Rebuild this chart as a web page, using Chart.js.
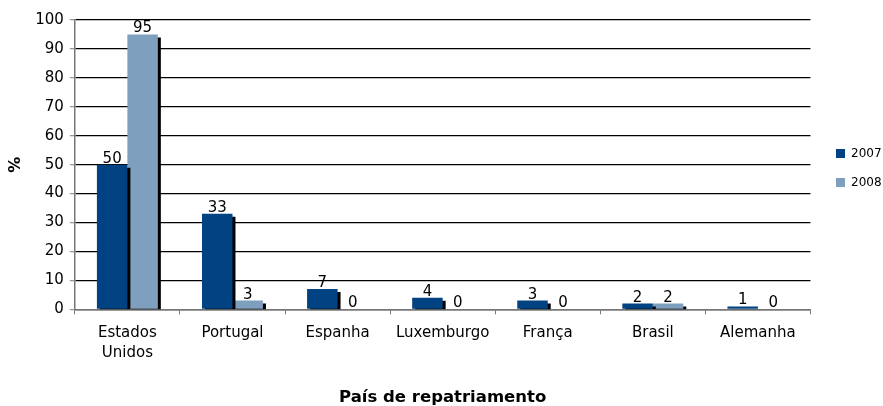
<!DOCTYPE html>
<html lang="pt">
<head>
    <meta charset="UTF-8">
    <title>País de repatriamento</title>
    <script src="https://cdn.jsdelivr.net/npm/chart.js"></script>
    <style>
        html, body { margin: 0; padding: 0; background: #fff; }
        #wrap { width: 883px; height: 406px; }
    </style>
</head>
<body>
    <div id="wrap"><canvas id="chart" width="883" height="406"></canvas></div>

    <script>
        const countries = [['Estados', 'Unidos'], 'Portugal', 'Espanha', 'Luxemburgo', 'França', 'Brasil', 'Alemanha'];
        const values2007 = [50, 33, 7, 4, 3, 2, 1];
        const values2008 = [95, 3, 0, 0, 0, 2, 0];
        const seriesNames = ['2007', '2008'];

        const FONT = '"DejaVu Sans", Verdana, sans-serif';

        // black drop shadow behind each bar
        const barShadow = {
            id: 'barShadow',
            beforeDatasetDraw(chart) {
                const ctx = chart.ctx;
                ctx.save();
                ctx.shadowColor = '#000';
                ctx.shadowOffsetX = 3;
                ctx.shadowOffsetY = 3;
                ctx.shadowBlur = 0;
            },
            afterDatasetDraw(chart) {
                chart.ctx.restore();
            }
        };

        // value above each bar
        const valueLabels = {
            id: 'valueLabels',
            afterDatasetsDraw(chart) {
                const ctx = chart.ctx;
                ctx.save();
                ctx.font = '15px ' + FONT;
                ctx.fillStyle = '#000';
                ctx.textAlign = 'center';
                ctx.textBaseline = 'alphabetic';
                chart.data.datasets.forEach((ds, i) => {
                    chart.getDatasetMeta(i).data.forEach((bar, j) => {
                        ctx.fillText(String(ds.data[j]), bar.x, bar.y - 2);
                    });
                });
                ctx.restore();
            }
        };

        // nudge the legend block to where the original sits
        const legendSpot = {
            id: 'legendSpot',
            afterLayout(chart) {
                const L = chart.legend;
                const pad = L.options.labels.padding;
                const dx = 836 - pad - L.left;
                const dy = 130.5 - L.top;
                L.left += dx; L.right += dx;
                L.top += dy; L.bottom += dy;
            }
        };

        new Chart(document.getElementById('chart'), {
            type: 'bar',
            data: {
                labels: countries,
                datasets: [
                    { label: seriesNames[0], data: values2007, backgroundColor: '#004282' },
                    { label: seriesNames[1], data: values2008, backgroundColor: '#7f9fbf' }
                ]
            },
            options: {
                responsive: false,
                animation: false,
                layout: { padding: { top: 20, right: 0, left: 2, bottom: 0 } },
                datasets: {
                    bar: { categoryPercentage: 0.58, barPercentage: 1.0, borderWidth: 0 }
                },
                plugins: {
                    legend: {
                        position: 'right',
                        align: 'start',
                        labels: {
                            boxWidth: 9,
                            boxHeight: 9,
                            padding: 17,
                            color: '#000',
                            font: { family: FONT, size: 12 }
                        }
                    },
                    tooltip: { enabled: false }
                },
                scales: {
                    x: {
                        grid: {
                            offset: true,
                            drawOnChartArea: false,
                            tickLength: 5,
                            tickColor: '#777'
                        },
                        border: { color: '#777', width: 1.5 },
                        ticks: {
                            color: '#000',
                            padding: 9,
                            maxRotation: 0,
                            font: { family: FONT, size: 15, lineHeight: 1.33 }
                        },
                        title: {
                            display: true,
                            text: 'País de repatriamento',
                            color: '#000',
                            padding: { top: 16, bottom: -2 },
                            font: { family: FONT, size: 16.5, weight: 'bold' }
                        }
                    },
                    y: {
                        min: 0,
                        max: 100,
                        ticks: {
                            stepSize: 10,
                            color: '#000',
                            padding: 6,
                            font: { family: FONT, size: 15 }
                        },
                        grid: {
                            color: '#000',
                            lineWidth: 1.3,
                            tickLength: 5,
                            tickColor: '#999'
                        },
                        border: { color: '#777', width: 1.5 },
                        title: {
                            display: true,
                            text: '%',
                            color: '#000',
                            padding: { bottom: 4 },
                            font: { family: FONT, size: 16, weight: 'bold' }
                        }
                    }
                }
            },
            plugins: [barShadow, valueLabels, legendSpot]
        });
    </script>
</body>
</html>
